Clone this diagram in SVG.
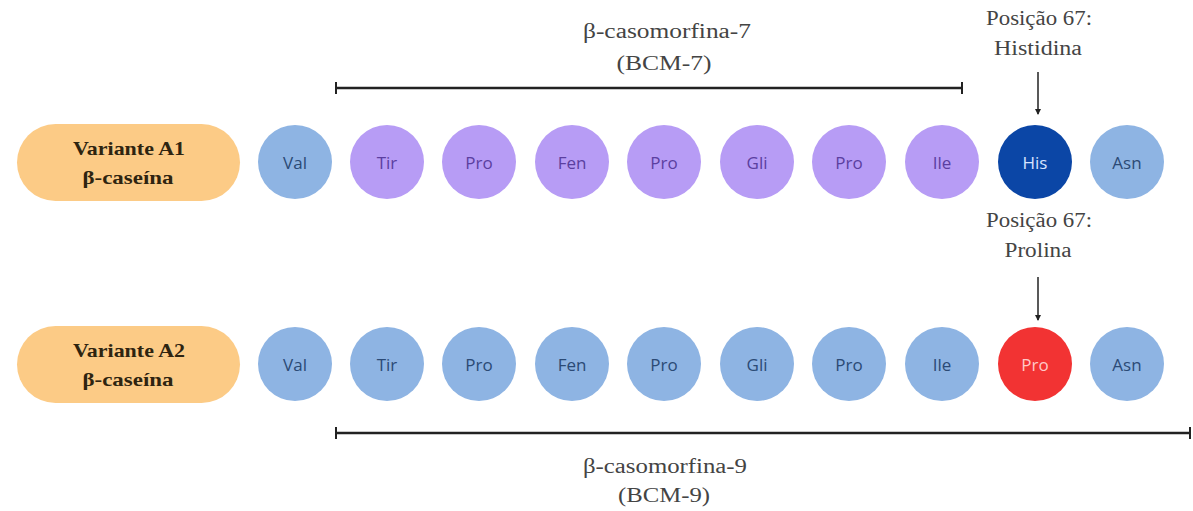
<svg xmlns="http://www.w3.org/2000/svg" width="1193" height="511" viewBox="0 0 1193 511">
  <style>
    .pill { fill: #FCCB86; }
    .pill-t { font-family: "Liberation Serif", serif; font-weight: bold; font-size: 19px; fill: #2e2410; text-anchor: middle; }
    .aa-t { font-family: "Open Sans", "Noto Sans", sans-serif; font-size: 17px; text-anchor: middle; dominant-baseline: central; }
    .blue { fill: #8EB4E3; }
    .blue-t { fill: #2B4A75; }
    .purple { fill: #B79CF5; }
    .purple-t { fill: #5B3FA0; }
    .his { fill: #0B46A6; }
    .pro-red { fill: #F23333; }
    .light-t { fill: #D8E4FF; }
    .red-t { fill: #FFC8C8; }
    .label { font-family: "Liberation Serif", serif; font-size: 20px; fill: #444; text-anchor: middle; }
    .bar { stroke: #222; stroke-width: 2.5; fill: none; }
    .tick { stroke: #222; stroke-width: 2; }
    .arrow { stroke: #222; stroke-width: 1.5; fill: none; marker-end: url(#head); }
  </style>
  <defs>
    <marker id="head" markerWidth="6" markerHeight="6" refX="5" refY="3" orient="auto" markerUnits="userSpaceOnUse">
      <path d="M0,0 L6,3 L0,6 Z" fill="#222"/>
    </marker>
  </defs>
  <rect width="1193" height="511" fill="#ffffff"/>

  <!-- Variant A1 row -->
  <g id="variant-a1">
    <rect class="pill" x="17" y="124" width="223" height="77" rx="38.5"/>
    <text class="pill-t" x="129" y="155" textLength="112" lengthAdjust="spacingAndGlyphs">Variante A1</text>
    <text class="pill-t" x="128" y="184" textLength="91" lengthAdjust="spacingAndGlyphs">β-caseína</text>
  </g>
  <g id="a1-val"><circle class="blue" cx="295" cy="162" r="37"/><text class="aa-t blue-t" x="295" y="162">Val</text></g>
  <g id="a1-tir"><circle class="purple" cx="387" cy="162" r="37"/><text class="aa-t purple-t" x="387" y="162">Tir</text></g>
  <g id="a1-pro1"><circle class="purple" cx="479" cy="162" r="37"/><text class="aa-t purple-t" x="479" y="162">Pro</text></g>
  <g id="a1-fen"><circle class="purple" cx="572" cy="162" r="37"/><text class="aa-t purple-t" x="572" y="162">Fen</text></g>
  <g id="a1-pro2"><circle class="purple" cx="664" cy="162" r="37"/><text class="aa-t purple-t" x="664" y="162">Pro</text></g>
  <g id="a1-gli"><circle class="purple" cx="757" cy="162" r="37"/><text class="aa-t purple-t" x="757" y="162">Gli</text></g>
  <g id="a1-pro3"><circle class="purple" cx="849" cy="162" r="37"/><text class="aa-t purple-t" x="849" y="162">Pro</text></g>
  <g id="a1-ile"><circle class="purple" cx="942" cy="162" r="37"/><text class="aa-t purple-t" x="942" y="162">Ile</text></g>
  <g id="a1-his"><circle class="his" cx="1035" cy="162" r="37"/><text class="aa-t light-t" x="1035" y="162">His</text></g>
  <g id="a1-asn"><circle class="blue" cx="1127" cy="162" r="37"/><text class="aa-t blue-t" x="1127" y="162">Asn</text></g>

  <!-- Variant A2 row -->
  <g id="variant-a2">
    <rect class="pill" x="17" y="326" width="223" height="77" rx="38.5"/>
    <text class="pill-t" x="129" y="357" textLength="112" lengthAdjust="spacingAndGlyphs">Variante A2</text>
    <text class="pill-t" x="128" y="386" textLength="91" lengthAdjust="spacingAndGlyphs">β-caseína</text>
  </g>
  <g id="a2-val"><circle class="blue" cx="295" cy="364" r="37"/><text class="aa-t blue-t" x="295" y="364">Val</text></g>
  <g id="a2-tir"><circle class="blue" cx="387" cy="364" r="37"/><text class="aa-t blue-t" x="387" y="364">Tir</text></g>
  <g id="a2-pro1"><circle class="blue" cx="479" cy="364" r="37"/><text class="aa-t blue-t" x="479" y="364">Pro</text></g>
  <g id="a2-fen"><circle class="blue" cx="572" cy="364" r="37"/><text class="aa-t blue-t" x="572" y="364">Fen</text></g>
  <g id="a2-pro2"><circle class="blue" cx="664" cy="364" r="37"/><text class="aa-t blue-t" x="664" y="364">Pro</text></g>
  <g id="a2-gli"><circle class="blue" cx="757" cy="364" r="37"/><text class="aa-t blue-t" x="757" y="364">Gli</text></g>
  <g id="a2-pro3"><circle class="blue" cx="849" cy="364" r="37"/><text class="aa-t blue-t" x="849" y="364">Pro</text></g>
  <g id="a2-ile"><circle class="blue" cx="942" cy="364" r="37"/><text class="aa-t blue-t" x="942" y="364">Ile</text></g>
  <g id="a2-pro"><circle class="pro-red" cx="1035" cy="364" r="37"/><text class="aa-t red-t" x="1035" y="364">Pro</text></g>
  <g id="a2-asn"><circle class="blue" cx="1127" cy="364" r="37"/><text class="aa-t blue-t" x="1127" y="364">Asn</text></g>

  <!-- Peptide span labels -->
  <g id="bcm7-label">
    <text class="label" x="667" y="38" textLength="168" lengthAdjust="spacingAndGlyphs">β-casomorfina-7</text>
    <text class="label" x="664" y="70" textLength="95" lengthAdjust="spacingAndGlyphs">(BCM-7)</text>
  </g>
  <g id="bcm9-label">
    <text class="label" x="665" y="473" textLength="164" lengthAdjust="spacingAndGlyphs">β-casomorfina-9</text>
    <text class="label" x="664" y="502" textLength="92" lengthAdjust="spacingAndGlyphs">(BCM-9)</text>
  </g>
  <g id="pos67-his-label">
    <text class="label" x="1039" y="25" textLength="106" lengthAdjust="spacingAndGlyphs">Posição 67:</text>
    <text class="label" x="1038" y="55" textLength="88" lengthAdjust="spacingAndGlyphs">Histidina</text>
  </g>
  <g id="pos67-pro-label">
    <text class="label" x="1039" y="227" textLength="106" lengthAdjust="spacingAndGlyphs">Posição 67:</text>
    <text class="label" x="1038" y="257" textLength="67" lengthAdjust="spacingAndGlyphs">Prolina</text>
  </g>

  <!-- Connectors: span brackets and pointer arrows -->
  <g id="connectors">
    <line class="bar" x1="336" y1="88" x2="962" y2="88"/>
    <line class="tick" x1="336" y1="82" x2="336" y2="94"/>
    <line class="tick" x1="962" y1="82" x2="962" y2="94"/>
    <line class="bar" x1="336" y1="433" x2="1190" y2="433"/>
    <line class="tick" x1="336" y1="427" x2="336" y2="439"/>
    <line class="tick" x1="1190" y1="427" x2="1190" y2="439"/>
    <line class="arrow" x1="1038" y1="72" x2="1038" y2="114"/>
    <line class="arrow" x1="1038" y1="277" x2="1038" y2="320"/>
  </g>
</svg>
